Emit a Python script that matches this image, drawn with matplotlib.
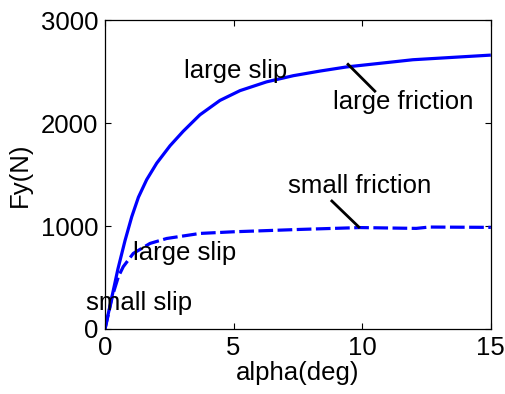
import matplotlib
matplotlib.use("Agg")
import matplotlib.pyplot as plt

plt.rcParams['font.family'] = ['Liberation Sans', 'DejaVu Sans']

# Lateral force vs slip angle
alpha_large = [0, 0.5, 0.78, 1.04, 1.3, 1.62, 2.01, 2.53, 3.04, 3.69, 4.47, 5.25,
               6.28, 7.32, 8.36, 9.39, 11.97, 15]
fy_large = [0, 580, 860, 1090, 1280, 1450, 1610, 1780, 1920, 2080, 2220, 2315,
            2400, 2460, 2505, 2545, 2615, 2660]

alpha_small = [0, 0.3, 0.52, 0.71, 1.10, 1.75, 2.40, 3.69, 4.99, 7.58, 9.91, 12.1,
               12.6, 15]
fy_small = [0, 330, 508, 605, 734, 831, 879, 928, 944, 967, 985, 977, 990, 987]

xticks = [0, 5, 10, 15]
yticks = [0, 1000, 2000, 3000]

fs = 18.5

fig = plt.figure(figsize=(5.06, 3.94), dpi=100)
ax = fig.add_axes([0.2075, 0.165, 0.7625, 0.784])

ax.plot(alpha_large, fy_large, color='#0000ff', lw=2.3, solid_capstyle='butt',
        solid_joinstyle='round')
ax.plot(alpha_small, fy_small, color='#0000ff', lw=2.3, linestyle=(0, (4.6, 1.4)))

# annotation leaders
ax.plot([9.45, 10.49], [2570, 2310], color='black', lw=2.0)
ax.plot([8.82, 9.87], [1243, 990], color='black', lw=2.0)

ax.text(3.07, 2505, 'large slip', fontsize=fs, va='center', ha='left')
ax.text(8.86, 2204, 'large friction', fontsize=fs, va='center', ha='left')
ax.text(7.11, 1388, 'small friction', fontsize=fs, va='center', ha='left')
ax.text(1.09, 738, 'large slip', fontsize=fs, va='center', ha='left')
ax.text(-0.74, 252, 'small slip', fontsize=fs, va='center', ha='left', clip_on=False)

ax.set_xlim(0, 15)
ax.set_ylim(0, 3000)
ax.set_xticks(xticks)
ax.set_yticks(yticks)
ax.tick_params(direction='in', length=4, width=0.8, labelsize=fs, pad=5,
               top=True, right=True)
for s in ax.spines.values():
    s.set_linewidth(0.9)

ax.set_xlabel('alpha(deg)', fontsize=fs, labelpad=1)
ax.set_ylabel('Fy(N)', fontsize=fs, labelpad=6)

fig.savefig('out.png', dpi=100)
